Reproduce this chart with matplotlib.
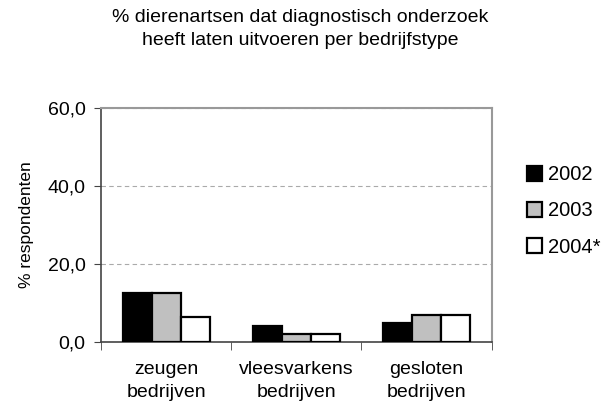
import matplotlib.pyplot as plt
import numpy as np

categories = ["zeugen\nbedrijven", "vleesvarkens\nbedrijven", "gesloten\nbedrijven"]
years = ["2002", "2003", "2004*"]
v2002 = [12.5, 4.2, 4.8]
v2003 = [12.5, 2.0, 6.9]
v2004 = [6.3, 2.0, 6.9]
yticks = [0, 20, 40, 60]
ytick_labels = ["0,0", "20,0", "40,0", "60,0"]
colors = ["black", "#c0c0c0", "white"]

plt.rcParams['font.family'] = ['Liberation Sans', 'DejaVu Sans']

fig = plt.figure(figsize=(6.03, 4.19), dpi=100)
ax = fig.add_axes([0.1675, 0.1838, 0.648, 0.5585])

x = np.arange(len(categories))
w = 0.223
for i, (vals, c, lab) in enumerate(zip([v2002, v2003, v2004], colors, years)):
    ax.bar(x + (i - 1) * w, vals, w, color=c, edgecolor="black", linewidth=1.6,
           label=lab, zorder=3)

ax.set_ylim(0, 60)
ax.set_xlim(-0.5, 2.5)
ax.set_yticks(yticks)
ax.set_yticklabels(ytick_labels, fontsize=14)
ax.yaxis.grid(True, linestyle=(0, (4, 3)), color="#aaaaaa", linewidth=0.8, zorder=0)
ax.set_xticks(x)
ax.set_xticklabels(categories, fontsize=14, linespacing=1.45)
ax.tick_params(axis="x", length=0, pad=14)
ax.set_xticks([-0.5, 0.5, 1.5, 2.5], minor=True)
ax.tick_params(axis="x", which="minor", length=6, color="#444444")
ax.tick_params(axis="y", length=5, color="#444444", pad=6)
ax.set_ylabel("% respondenten", fontsize=12.5, labelpad=10)

for s in ["top", "right"]:
    ax.spines[s].set_color("#999999")
    ax.spines[s].set_linewidth(1.5)
for s in ["left", "bottom"]:
    ax.spines[s].set_color("#444444")
    ax.spines[s].set_linewidth(1.2)

fig.text(0.498, 0.931, "% dierenartsen dat diagnostisch onderzoek\nheeft laten uitvoeren per bedrijfstype",
         ha="center", va="center", fontsize=14, linespacing=1.45)

ax.legend(loc="center left", bbox_to_anchor=(1.07, 0.56), frameon=False, fontsize=14.5,
          handlelength=0.75, handleheight=0.75, handletextpad=0.3, labelspacing=0.85,
          borderaxespad=0)

fig.savefig("out.png", dpi=100)
